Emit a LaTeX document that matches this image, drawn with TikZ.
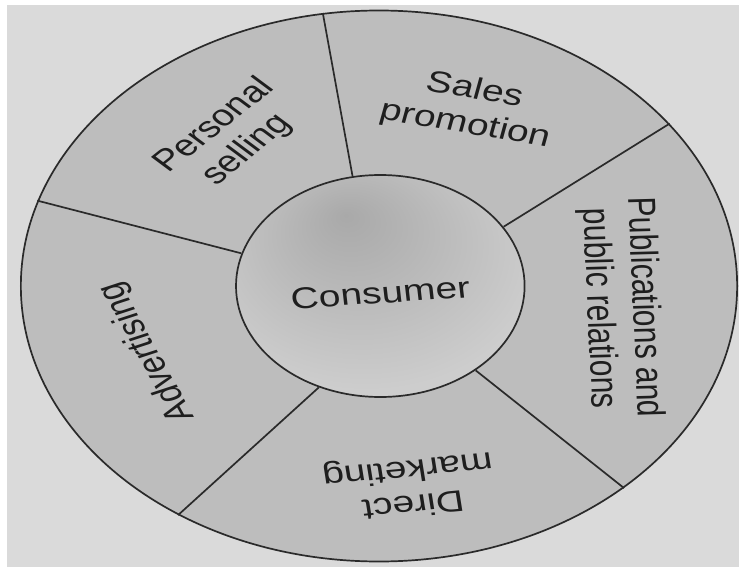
\documentclass[tikz,border=0pt]{standalone}
\usepackage{fontspec}
\setmainfont{Liberation Sans}
\definecolor{paper}{HTML}{DADADA}
\definecolor{ringgray}{HTML}{BDBDBD}
\definecolor{hubdark}{HTML}{A9A9A9}
\definecolor{hublight}{HTML}{CDCDCD}
\definecolor{inkline}{HTML}{2A2A2A}
\definecolor{inktext}{HTML}{1E1E1E}
% soft darker spot slightly above the middle of the hub
\pgfdeclareradialshading{consumerglow}{\pgfpoint{-6bp}{16bp}}{%
  color(0bp)=(hubdark); color(30bp)=(hublight); color(50bp)=(hublight)}
\begin{document}
\begin{tikzpicture}[x=1pt,y=1pt,
  divider/.style={draw=inkline, line width=1.7pt},
  disc/.style={circle, draw=inkline, line width=1.7pt, inner sep=0pt, transform shape},
  seglabel/.style={text=inktext, font=\fontsize{30}{35}\selectfont, align=center,
                   inner sep=0pt, transform shape},
]
\fill[white] (0,0) rectangle (739,-567);
\useasboundingbox (0,0) rectangle (739,-567);
\fill[paper] (7,-5) rectangle (739,-567);

% the wheel is round; the whole figure is widened horizontally
\begin{scope}[shift={(379,-286)}, xscale=1.3]
  \node[disc, fill=ringgray, minimum size=551pt] (ring) at (0,0) {};
  \node[disc, shade, shading=consumerglow, minimum size=222pt] (hub) at (1,0) {};

  % spokes between the five segments
  \draw[divider] (hub.101) -- (ring.99.5);
  \draw[divider] (hub.32) -- (ring.36.5);
  \draw[divider] (hub.-49.6) -- (ring.-47);
  \draw[divider] (hub.-115.6) -- (ring.-124);
  \draw[divider] (hub.163.4) -- (ring.162);

  \node[seglabel, rotate=5] (consumer) at (1,-7) {Consumer};
  \node[seglabel, rotate=46] (personal) at (-114,148) {Personal\\selling};
  \node[seglabel, rotate=-12] (sales) at (70,178) {Sales\\promotion};
  \node[seglabel, rotate=-88] (publications) at (186,-22) {Publications and\\public relations};
  \node[seglabel, rotate=187] (direct) at (24,-200) {Direct\\marketing};
  \node[seglabel, rotate=113] (advertising) at (-178,-66) {Advertising};
\end{scope}
\end{tikzpicture}
\end{document}
